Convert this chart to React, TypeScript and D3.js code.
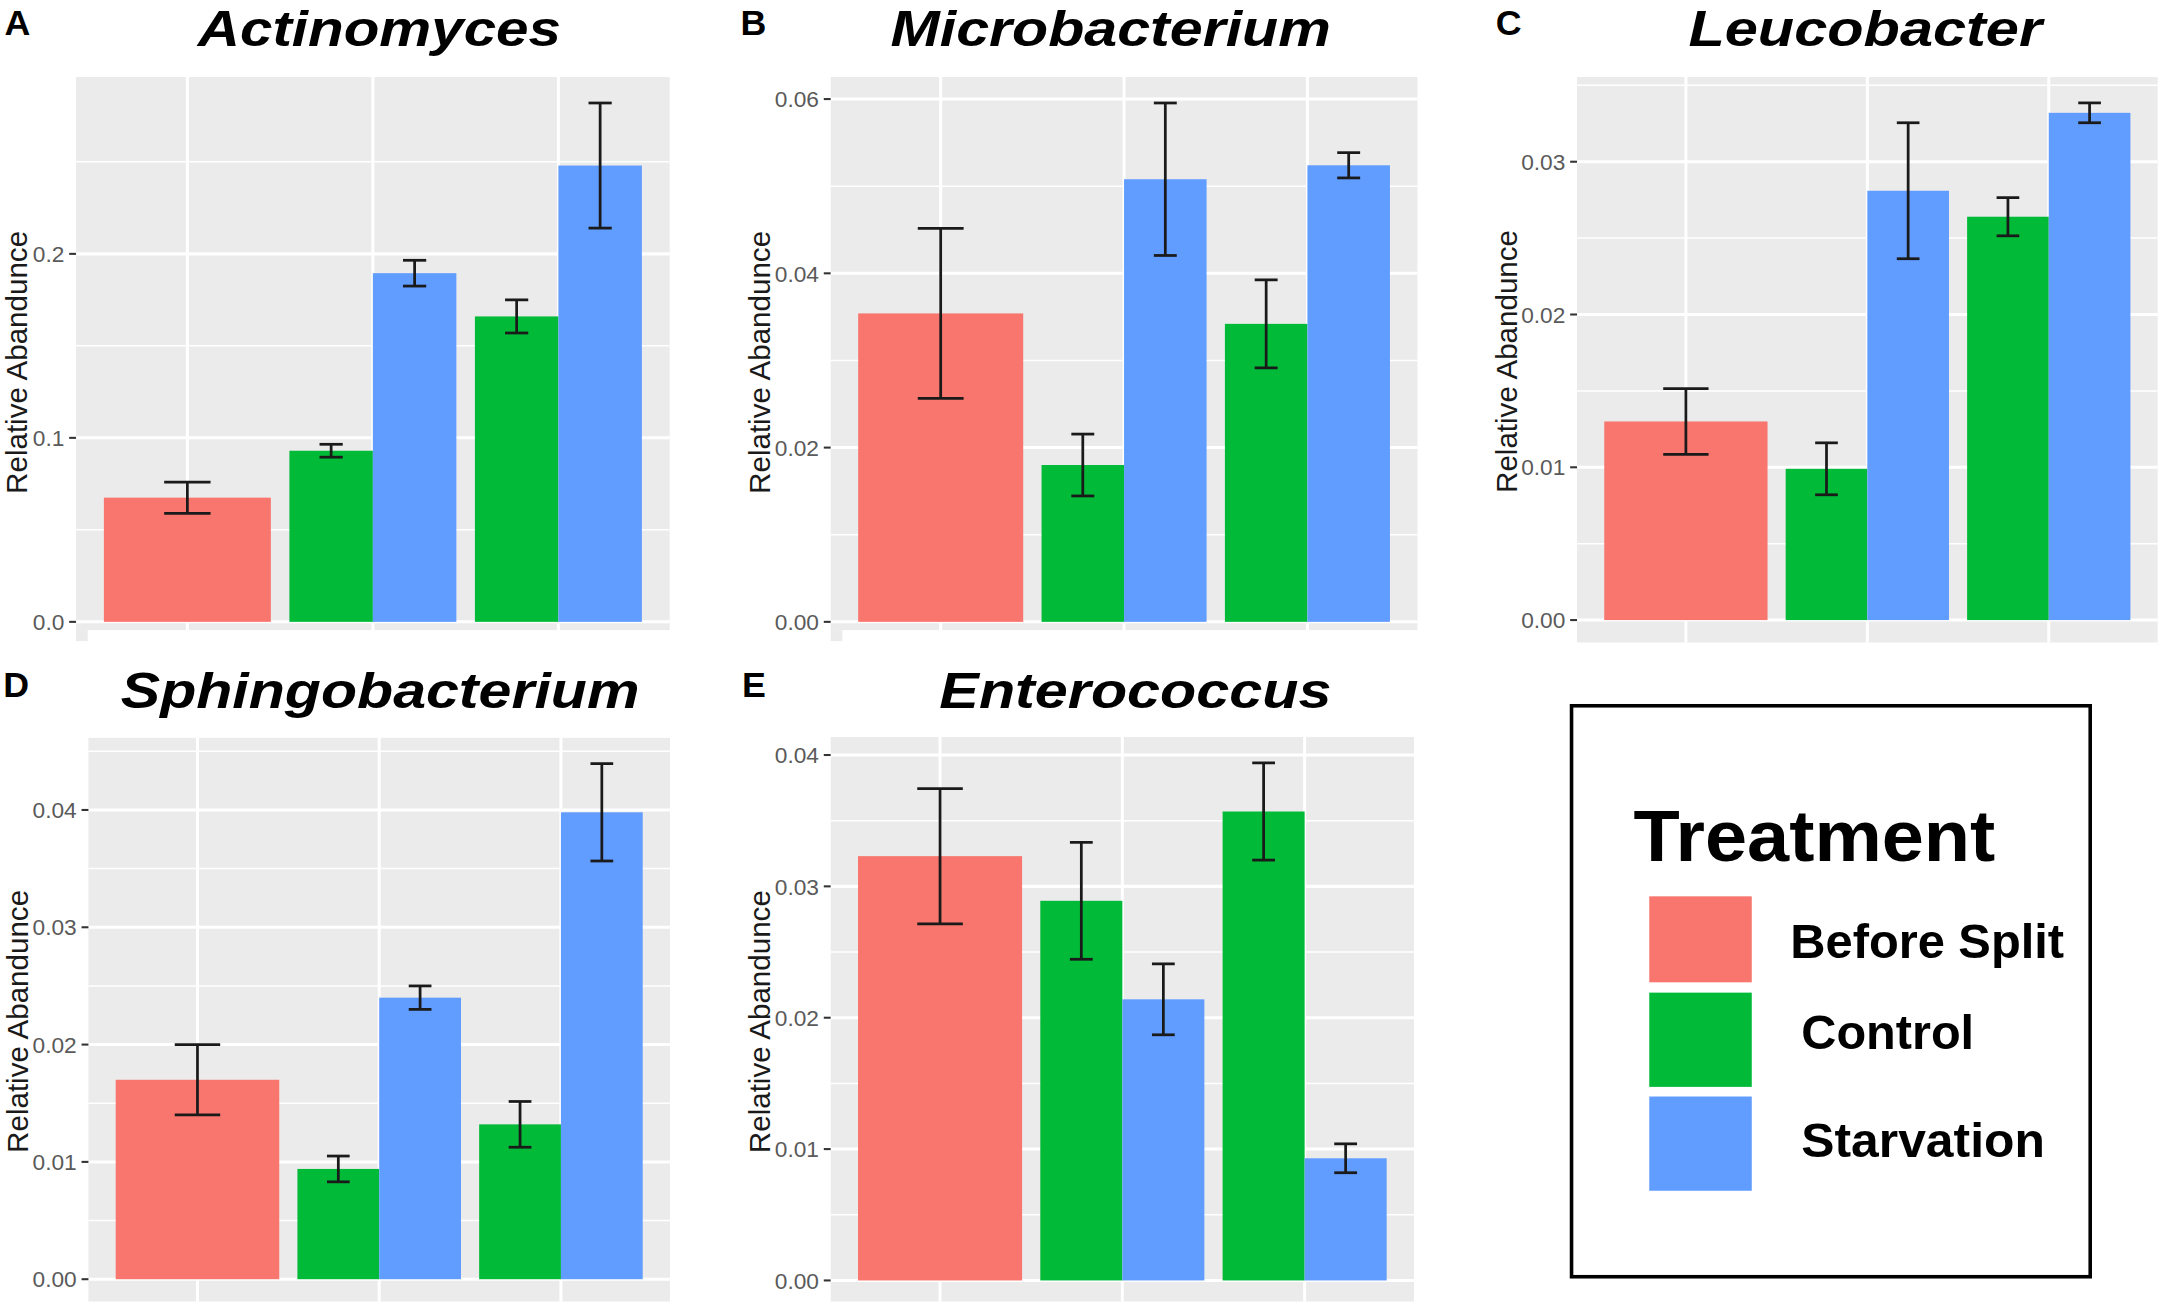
import React from 'react';
import * as d3 from 'd3';

// treatments and their ggplot colours
const treatments = ['Before Split', 'Control', 'Starvation'];
const treatmentColors = ['#F8766D', '#00BA38', '#619CFF'];

// x positions (labels are cropped off in the figure)
const timepoints = ['Before', 'Time 1', 'Time 2'];
// the five bars in each panel: which timepoint / treatment they belong to
const barTimepoint = [0, 1, 1, 2, 2];
const barTreatment = [0, 1, 2, 1, 2];

const genera = ['Actinomyces', 'Microbacterium', 'Leucobacter', 'Sphingobacterium', 'Enterococcus'];
const panelLetters = ['A', 'B', 'C', 'D', 'E'];

// mean relative abundance and standard error, bar order as above
const actinomycesMean = [0.0675, 0.093, 0.1895, 0.166, 0.248];
const actinomycesSE = [0.0085, 0.0035, 0.007, 0.009, 0.034];
const microbacteriumMean = [0.0354, 0.018, 0.0508, 0.0342, 0.0524];
const microbacteriumSE = [0.00975, 0.00355, 0.00875, 0.00505, 0.00145];
const leucobacterMean = [0.013, 0.0099, 0.0281, 0.0264, 0.0332];
const leucobacterSE = [0.00215, 0.0017, 0.00445, 0.00125, 0.00065];
const sphingobacteriumMean = [0.017, 0.0094, 0.024, 0.0132, 0.0398];
const sphingobacteriumSE = [0.003, 0.0011, 0.001, 0.00195, 0.00415];
const enterococcusMean = [0.0323, 0.0289, 0.0214, 0.0357, 0.0093];
const enterococcusSE = [0.00515, 0.00445, 0.0027, 0.0037, 0.0011];

const means = [actinomycesMean, microbacteriumMean, leucobacterMean, sphingobacteriumMean, enterococcusMean];
const ses = [actinomycesSE, microbacteriumSE, leucobacterSE, sphingobacteriumSE, enterococcusSE];

// y tick labels per panel
const ticksA = [0, 0.1, 0.2];
const ticksB = [0, 0.02, 0.04, 0.06];
const ticksC = [0, 0.01, 0.02, 0.03];
const ticksD = [0, 0.01, 0.02, 0.03, 0.04];
const ticksE = [0, 0.01, 0.02, 0.03, 0.04];
const panelTicks = [ticksA, ticksB, ticksC, ticksD, ticksE];
const tickFormats = ['.1f', '.2f', '.2f', '.2f', '.2f'];

const yTitle = 'Relative Abandunce';

// layout (viewBox units, 1568 x 950)
const W = 1568;
const H = 950;
const layout = [
  { x0: 55, x1: 486.5, top: 56, zero: 452, bottom: 458, titleX: 275.5, titleW: 264, rowY: 0, letterX: 3, labW: 22, stub: true },
  { x0: 603.5, x1: 1030, top: 56, zero: 452, bottom: 458, titleX: 807, titleW: 320, rowY: 0, letterX: 538, labW: 30, stub: true },
  { x0: 1146, x1: 1568, top: 56, zero: 450.7, bottom: 467, titleX: 1355.5, titleW: 257, rowY: 0, letterX: 1087, labW: 30, stub: false },
  { x0: 64, x1: 486.7, top: 536.3, zero: 929.8, bottom: 946, titleX: 276, titleW: 377, rowY: 480.9, letterX: 2, labW: 30, stub: false },
  { x0: 603.5, x1: 1027.5, top: 535.7, zero: 930.7, bottom: 946, titleX: 825, titleW: 285, rowY: 480.9, letterX: 539, labW: 30, stub: false },
];

const FONT = '"Liberation Sans", Arial, Helvetica, sans-serif';

function Panel({ idx }: { idx: number }) {
  const L = layout[idx];
  const m = means[idx];
  const se = ses[idx];
  const maxVal = d3.max(m.map((v, i) => v + se[i])) as number;
  const yTop = maxVal * 1.05;
  const y = d3.scaleLinear().domain([0, yTop]).range([L.zero, L.top]);
  const x = d3.scaleLinear().domain([0.4, 3.6]).range([L.x0, L.x1]);
  const ticks = panelTicks[idx];
  const step = ticks[1] - ticks[0];
  const minor: number[] = [];
  for (let k = 0; k <= ticks.length; k++) {
    const v = ticks[0] + step * (k + 0.5);
    if (y(v) > L.top) minor.push(v);
  }
  const fmt = d3.format(tickFormats[idx]);
  const fullBottom = y(-0.05 * maxVal);
  const yTitleCenter = (L.top + fullBottom) / 2;
  const yTitleX = L.x0 - 8.5 - L.labW - 5.5;

  const bars = m.map((v, i) => {
    const c = barTimepoint[i] + 1;
    const single = barTimepoint[i] === 0;
    const left = single ? c - 0.45 : barTreatment[i] === 1 ? c - 0.45 : c;
    const w = single ? 0.9 : 0.45;
    const center = left + w / 2;
    const capHalf = single ? 0.125 : 0.0625;
    return { v, s: se[i], left, w, center, capHalf, color: treatmentColors[barTreatment[i]] };
  });

  return (
    <g>
      <text x={L.letterX} y={L.rowY + 25.5} fontFamily={FONT} fontWeight="bold" fontSize={26} fill="#000">
        {panelLetters[idx]}
      </text>
      <text
        x={L.titleX - L.titleW / 2}
        y={L.rowY + 33.5}
        fontFamily={FONT}
        fontWeight="bold"
        fontStyle="italic"
        fontSize={36}
        textLength={L.titleW}
        lengthAdjust="spacingAndGlyphs"
        fill="#000"
      >
        {genera[idx]}
      </text>
      <rect x={L.x0} y={L.top} width={L.x1 - L.x0} height={L.bottom - L.top} fill="#EBEBEB" />
      {L.stub && <rect x={L.x0} y={L.bottom} width={8.5} height={8} fill="#EBEBEB" />}
      {minor.map((v) => (
        <line key={'mn' + v} x1={L.x0} x2={L.x1} y1={y(v)} y2={y(v)} stroke="#fff" strokeWidth={1.1} />
      ))}
      {ticks.map((v) => (
        <line key={'mj' + v} x1={L.x0} x2={L.x1} y1={y(v)} y2={y(v)} stroke="#fff" strokeWidth={2.2} />
      ))}
      {timepoints.map((t, i) => (
        <line key={t} x1={x(i + 1)} x2={x(i + 1)} y1={L.top} y2={L.bottom} stroke="#fff" strokeWidth={2.2} />
      ))}
      {bars.map((b, i) => (
        <rect
          key={'b' + i}
          x={x(b.left)}
          y={y(b.v)}
          width={x(b.left + b.w) - x(b.left)}
          height={y(0) - y(b.v)}
          fill={b.color}
        />
      ))}
      {bars.map((b, i) => (
        <g key={'e' + i} stroke="#1a1a1a" strokeWidth={2} fill="none">
          <line x1={x(b.center)} x2={x(b.center)} y1={y(b.v + b.s)} y2={y(b.v - b.s)} />
          <line x1={x(b.center - b.capHalf)} x2={x(b.center + b.capHalf)} y1={y(b.v + b.s)} y2={y(b.v + b.s)} />
          <line x1={x(b.center - b.capHalf)} x2={x(b.center + b.capHalf)} y1={y(b.v - b.s)} y2={y(b.v - b.s)} />
        </g>
      ))}
      {ticks.map((v) => (
        <g key={'t' + v}>
          <line x1={L.x0 - 5} x2={L.x0} y1={y(v)} y2={y(v)} stroke="#333" strokeWidth={1.5} />
          <text
            x={L.x0 - 8.5}
            y={y(v)}
            dy="0.36em"
            textAnchor="end"
            fontFamily={FONT}
            fontSize={16.5}
            fill="#5a5a5a"
          >
            {fmt(v)}
          </text>
        </g>
      ))}
      <text
        transform={`translate(${yTitleX},${yTitleCenter}) rotate(-90)`}
        textAnchor="middle"
        fontFamily={FONT}
        fontSize={21.5}
        fill="#1a1a1a"
      >
        {yTitle}
      </text>
    </g>
  );
}

function Legend() {
  const swatchY = [651.5, 721.5, 797];
  const swatchH = [62.5, 68.5, 68.5];
  const labelX = [1301, 1309, 1309];
  const labelY = [696, 762.3, 840.8];
  const labelW = [199, 125.6, 177];
  return (
    <g>
      <rect x={1142} y={513} width={377} height={415} fill="#fff" stroke="#000" strokeWidth={2.6} />
      <text x={1187} y={626} fontFamily={FONT} fontWeight="bold" fontSize={52} textLength={263} lengthAdjust="spacingAndGlyphs" fill="#000">
        Treatment
      </text>
      {treatments.map((t, i) => (
        <g key={t}>
          <rect x={1198.5} y={swatchY[i]} width={74.5} height={swatchH[i]} fill={treatmentColors[i]} />
          <text
            x={labelX[i]}
            y={labelY[i]}
            fontFamily={FONT}
            fontWeight="bold"
            fontSize={35}
            textLength={labelW[i]}
            lengthAdjust="spacingAndGlyphs"
            fill="#000"
          >
            {t}
          </text>
        </g>
      ))}
    </g>
  );
}

export default function App() {
  return (
    <div style={{ position: 'absolute', left: 0, top: 0, background: '#fff' }}>
      <svg width={2158} height={1307} viewBox={`0 0 ${W} ${H}`} style={{ display: 'block' }}>
        <rect x={0} y={0} width={W} height={H} fill="#fff" />
        {genera.map((g, i) => (
          <Panel key={g} idx={i} />
        ))}
        <Legend />
      </svg>
    </div>
  );
}
